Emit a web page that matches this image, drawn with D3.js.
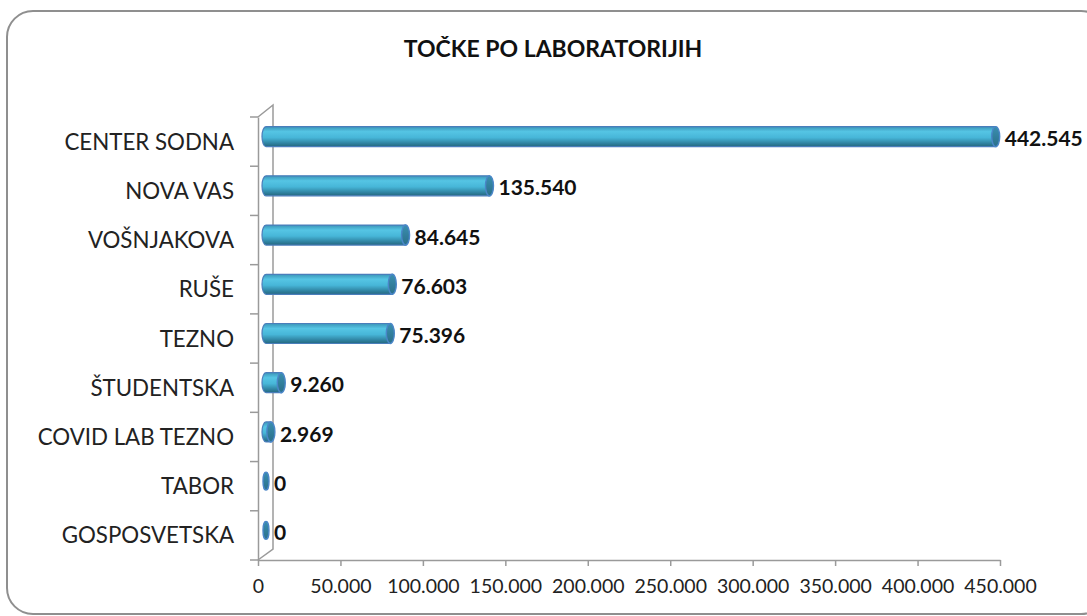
<!DOCTYPE html>
<html>
<head>
<meta charset="utf-8">
<script src="https://cdn.jsdelivr.net/npm/d3@7"></script>
<style>
  html, body { margin: 0; padding: 0; background: #fff; }
  svg { display: block; }
  text { font-family: Lato, sans-serif; }
</style>
</head>
<body>
<svg id="chart" width="1087" height="616"></svg>
<script>
const title = "TOČKE PO LABORATORIJIH";
const categories = ["CENTER SODNA","NOVA VAS","VOŠNJAKOVA","RUŠE","TEZNO","ŠTUDENTSKA","COVID LAB TEZNO","TABOR","GOSPOSVETSKA"];
const values = [442545, 135540, 84645, 76603, 75396, 9260, 2969, 0, 0];
const tickValues = [0,50000,100000,150000,200000,250000,300000,350000,400000,450000];

const svg = d3.select("#chart");
const loc = d3.formatLocale({decimal: ",", thousands: ".", grouping: [3], currency: ["", ""]});
const fmt = loc.format(",");

const defs = svg.append("defs");
const g1 = defs.append("linearGradient").attr("id","cyl").attr("x1",0).attr("y1",0).attr("x2",0).attr("y2",1);
g1.append("stop").attr("offset","0%").attr("stop-color","#3b95b8");
g1.append("stop").attr("offset","25%").attr("stop-color","#55c5e4");
g1.append("stop").attr("offset","55%").attr("stop-color","#47b6d8");
g1.append("stop").attr("offset","85%").attr("stop-color","#2e809e");
g1.append("stop").attr("offset","100%").attr("stop-color","#25687f");
const g2 = defs.append("linearGradient").attr("id","cap").attr("x1",0).attr("y1",0).attr("x2",0).attr("y2",1);
g2.append("stop").attr("offset","0%").attr("stop-color","#3a8fb0");
g2.append("stop").attr("offset","100%").attr("stop-color","#2a6f89");

svg.append("rect").attr("x",7).attr("y",11).attr("width",1100).attr("height",603)
  .attr("rx",26).attr("ry",26).attr("fill","#fff").attr("stroke","#8f8f8f").attr("stroke-width",2);

svg.append("text").attr("x",553).attr("y",49).attr("dy","0.36em").attr("text-anchor","middle")
  .attr("font-size",23).attr("font-weight","bold").attr("fill","#111").text(title);

const x = d3.scaleLinear().domain([0,450000]).range([258,1000]);
const y = d3.scaleBand().domain(categories).range([117,560]);
const dx = 8, dy = -5;

const axisCol = "#9a9a9a";
svg.append("path")
  .attr("d", `M${x(0)},${y.range()[0]} L${x(0)+15},${y.range()[0]-12} L${x(0)+15},${y.range()[1]-11} L${x(0)},${y.range()[1]}`)
  .attr("fill","none").attr("stroke",axisCol).attr("stroke-width",1.5);

const yAxis = svg.append("g").attr("transform",`translate(${x(0)},0)`)
  .call(d3.axisLeft(y).tickSize(0).tickPadding(24));
yAxis.select(".domain").attr("stroke",axisCol).attr("stroke-width",1.5);
yAxis.selectAll("text").attr("font-size",22.3).attr("fill","#222").attr("dy","0.36em").attr("font-family","Lato, sans-serif");
svg.append("g").selectAll("line").data(categories.map(c=>y(c)).concat([y.range()[1]]))
  .join("line").attr("x1",x(0)-8).attr("x2",x(0)).attr("y1",d=>d).attr("y2",d=>d)
  .attr("stroke",axisCol).attr("stroke-width",1.5);

const xAxis = svg.append("g").attr("transform",`translate(0,${y.range()[1]})`)
  .call(d3.axisBottom(x).tickValues(tickValues).tickFormat(d=>fmt(d)).tickSize(6).tickSizeOuter(0).tickPadding(13));
xAxis.select(".domain").attr("stroke",axisCol).attr("stroke-width",1.5);
xAxis.selectAll(".tick line").attr("stroke",axisCol).attr("stroke-width",1.5);
xAxis.selectAll("text").attr("font-size",19.5).attr("fill","#222").attr("font-family","Lato, sans-serif");

const h = 20, rx = 4;
const bars = svg.append("g").selectAll("g").data(categories.map((c,i)=>({c, v: values[i]}))).join("g");
bars.each(function(d){
  const gg = d3.select(this);
  const cy = y(d.c) + y.bandwidth()/2 + dy;
  const xs = x(0) + dx, xe = x(d.v) + dx;
  const ry = d.v === 0 ? 9 : h/2;
  if (xe - xs > 1) {
    gg.append("path")
      .attr("d", `M${xs},${cy-ry} L${xe},${cy-ry} L${xe},${cy+ry} L${xs},${cy+ry} A${rx},${ry} 0 0 1 ${xs},${cy-ry} Z`)
      .attr("fill","url(#cyl)").attr("stroke","#4a7ebb").attr("stroke-width",1.2);
  }
  gg.append("ellipse").attr("cx",xe).attr("cy",cy).attr("rx",d.v===0?3:rx).attr("ry",ry)
    .attr("fill","url(#cap)").attr("stroke","#4a86c8").attr("stroke-width",1.4);
  gg.append("text").attr("x", xe + (d.v===0?8:9)).attr("y", cy + 2).attr("dy","0.36em")
    .attr("font-size",21).attr("font-weight","bold").attr("fill","#111").text(fmt(d.v));
});
</script>
</body>
</html>
